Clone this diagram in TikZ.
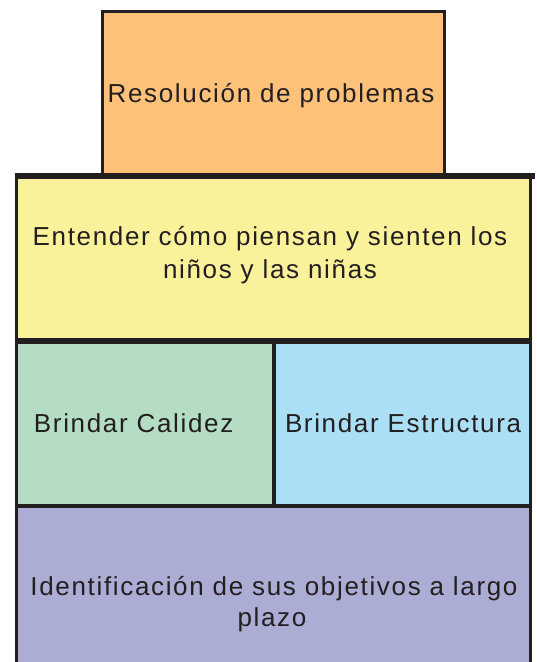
\documentclass[tikz,border=0pt]{standalone}
\usepackage{fontspec}
\setmainfont{Liberation Sans}[LetterSpace=6.4]
\definecolor{ink}{HTML}{231F20}
\definecolor{cOrange}{HTML}{FDC17A}
\definecolor{cYellow}{HTML}{F9F29B}
\definecolor{cGreen}{HTML}{B4DDC3}
\definecolor{cBlue}{HTML}{ABDFF5}
\definecolor{cPurple}{HTML}{ACADD5}
\tikzset{
  blockbox/.style={rectangle, draw=ink, line width=3pt, inner sep=0pt, outer sep=0pt, anchor=north west},
  heavyline/.style={draw=ink, line width=6pt},
  midline/.style={draw=ink, line width=4pt},
  label/.style={text=ink, font=\fontsize{26}{32}\selectfont, inner sep=0pt, outer sep=0pt},
}
\begin{document}
\begin{tikzpicture}[x=1pt,y=-1pt]
\useasboundingbox (0,0) rectangle (537,662);
\begin{scope}
\clip (0,0) rectangle (537,662);
\node[blockbox, fill=cOrange, minimum width=342pt, minimum height=164.5pt] (orange) at (102.5,11.5) {};
\node[blockbox, fill=cYellow, minimum width=514pt, minimum height=165pt] (yellow) at (16.5,176) {};
\node[blockbox, fill=cGreen, minimum width=257.5pt, minimum height=165pt] (green) at (16.5,341) {};
\node[blockbox, fill=cBlue, minimum width=256.5pt, minimum height=165pt] (blue) at (274,341) {};
\node[blockbox, fill=cPurple, minimum width=514pt, minimum height=180pt] (purple) at (16.5,506) {};
\draw[heavyline] ([xshift=-1.5pt]yellow.north west) -- ([xshift=4pt]yellow.north east);
\draw[heavyline] ([xshift=-1.5pt]yellow.south west) -- ([xshift=1.5pt]yellow.south east);
\draw[midline] (green.north east) -- (green.south east);
\draw[midline] ([xshift=-1.5pt]purple.north west) -- ([xshift=1.5pt]purple.north east);
\end{scope}
\node[label, anchor=base] (t1) at (271,102) {Resolución de problemas};
\node[label, anchor=base] (t2a) at (270,245.7) {Entender cómo piensan y sienten los};
\node[label, anchor=base] (t2b) at (270,278.5) {niños y las niñas};
\node[label, anchor=base west] (t3) at (34,432.3) {Brindar Calidez};
\node[label, anchor=base west] (t4) at (285,432.3) {Brindar Estructura};
\node[label, anchor=base] (t5a) at (274,595) {Identificación de sus objetivos a largo};
\node[label, anchor=base] (t5b) at (272,626.7) {plazo};
\end{tikzpicture}
\end{document}
